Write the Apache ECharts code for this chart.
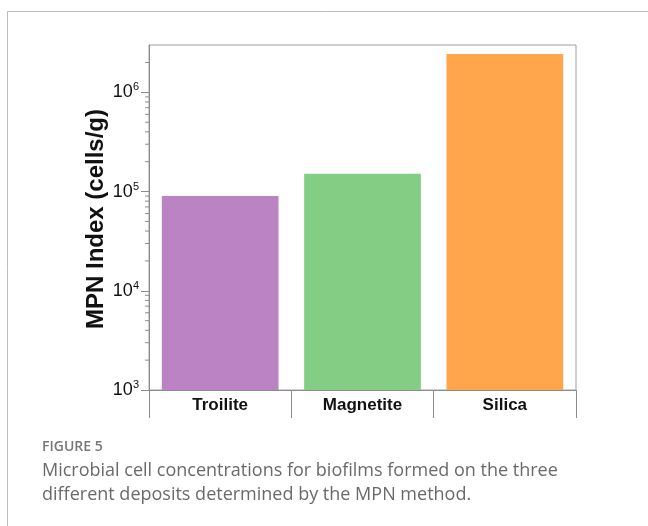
<!DOCTYPE html>
<html>
<head>
<meta charset="utf-8">
<script src="https://cdn.jsdelivr.net/npm/echarts@6/dist/echarts.min.js"></script>
<style>
  html, body { margin: 0; padding: 0; background: #fff; }
  #chart { width: 648px; height: 526px; }
</style>
</head>
<body>
<div id="chart"></div>
<script>
// Deposits and MPN cell counts (cells/g)
const categories = ['Troilite', 'Magnetite', 'Silica'];
const mpnValues = [90000, 151000, 2430000];
const barColors = ['#bc83c4', '#84cd84', '#ffa54b'];

// Log axis range and minor tick values (2..9 in each decade)
const yMin = 1000;
const yMax = 3000000;
const minorTickValues = [];
for (let d = 3; d <= 6; d++) {
  for (let m = 2; m <= 9; m++) {
    const v = m * Math.pow(10, d);
    if (v < yMax) minorTickValues.push(v);
  }
}

const axisGray = '#8c8c8c';
const chart = echarts.init(document.getElementById('chart'), null, { renderer: 'canvas' });

chart.setOption({
  animation: false,
  backgroundColor: '#ffffff',
  grid: {
    left: 149, right: 72, top: 45, bottom: 136,
    show: true, borderColor: '#a0a0a0', borderWidth: 1
  },
  xAxis: {
    type: 'category',
    data: categories,
    boundaryGap: true,
    axisLine: { lineStyle: { color: axisGray, width: 1 } },
    axisTick: { show: true, alignWithLabel: false, length: 28, lineStyle: { color: axisGray } },
    axisLabel: {
      margin: 7,
      color: '#111',
      fontFamily: 'Liberation Sans, Arial, sans-serif',
      fontWeight: 'bold',
      fontSize: 17
    }
  },
  yAxis: {
    type: 'log',
    logBase: 10,
    min: yMin,
    max: yMax,
    splitLine: { show: false },
    axisLine: { show: true, lineStyle: { color: axisGray, width: 1 } },
    axisTick: { show: true, length: 8, lineStyle: { color: axisGray } },
    axisLabel: {
      margin: 10,
      showMaxLabel: false,
      formatter: function (v) {
        const e = Math.log10(v);
        if (Math.abs(e - Math.round(e)) > 1e-6) return '';
        return '{b|10}{s|' + Math.round(e) + '}';
      },
      rich: {
        b: { fontSize: 18, color: '#111', fontFamily: 'Liberation Sans, Arial, sans-serif' },
        s: { fontSize: 11, color: '#111', fontFamily: 'Liberation Sans, Arial, sans-serif', padding: [0, 0, 10, 0] }
      }
    }
  },
  series: [
    {
      type: 'bar',
      data: mpnValues.map((v, i) => ({ value: v, itemStyle: { color: barColors[i] } })),
      barCategoryGap: '18%'
    },
    {
      // minor ticks on the log axis, drawn outside the left edge of the grid
      type: 'custom',
      coordinateSystem: 'cartesian2d',
      clip: false,
      silent: true,
      data: minorTickValues.map(v => [0, v]),
      encode: { x: 0, y: 1 },
      renderItem: function (params, api) {
        const y = api.coord([0, api.value(1)])[1];
        const x0 = params.coordSys.x;
        return {
          type: 'line',
          shape: { x1: x0 - 4, y1: y, x2: x0, y2: y },
          style: { stroke: axisGray, lineWidth: 1 }
        };
      }
    }
  ],
  graphic: [
    {
      type: 'polyline',
      shape: { points: [[7.5, 526], [7.5, 11.5], [648, 11.5]] },
      style: { stroke: '#bdbdbd', lineWidth: 1, fill: null }
    },
    {
      type: 'text',
      x: 96, y: 219,
      rotation: Math.PI / 2,
      style: {
        text: 'MPN Index (cells/g)',
        font: 'bold 24px "Liberation Sans", Arial, sans-serif',
        fill: '#111',
        align: 'center',
        verticalAlign: 'middle'
      }
    },
    {
      type: 'text',
      x: 42, y: 447,
      style: {
        text: 'FIGURE 5',
        font: '600 14px "Open Sans", sans-serif',
        fill: '#777777',
        verticalAlign: 'middle'
      }
    },
    {
      type: 'text',
      x: 42, y: 471,
      style: {
        text: 'Microbial cell concentrations for biofilms formed on the three',
        font: '18px "Open Sans", sans-serif',
        fill: '#6a6a6a',
        verticalAlign: 'middle'
      }
    },
    {
      type: 'text',
      x: 42, y: 495,
      style: {
        text: 'different deposits determined by the MPN method.',
        font: '18px "Open Sans", sans-serif',
        fill: '#6a6a6a',
        verticalAlign: 'middle'
      }
    }
  ]
});
</script>
</body>
</html>
